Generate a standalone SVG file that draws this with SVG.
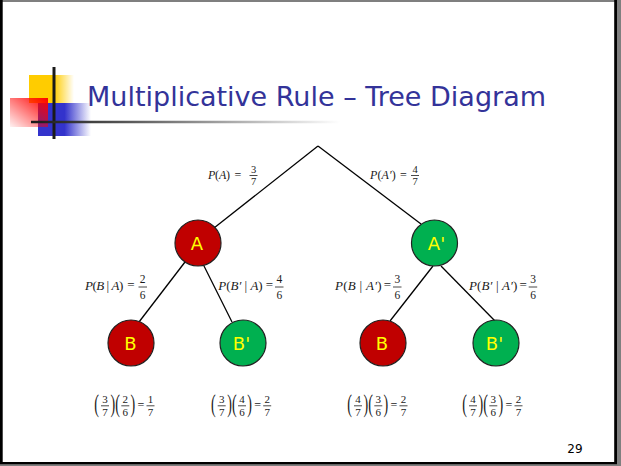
<svg xmlns="http://www.w3.org/2000/svg" width="621" height="466" viewBox="0 0 621 466">
<defs>
<style>
.m{font-family:"Liberation Serif","Times New Roman",serif;fill:#1a1a1a}
.i{font-style:italic}
.d{font-size:11px;text-anchor:middle}
.d1{font-size:10.5px;text-anchor:middle}
.d2{font-size:11.5px;text-anchor:middle}
.eq{text-anchor:middle}
.fb{stroke:#1a1a1a;stroke-width:0.8}
.nd{stroke:#222;stroke-width:1.2}
.red{fill:#C00000}
.grn{fill:#00B050}
.nl{font-family:"DejaVu Sans","Verdana",sans-serif;font-size:18px;fill:#FFFF00;text-anchor:middle}
.edge{stroke:#000;stroke-width:1.3;fill:none}
.pr{font-family:"Liberation Serif","Times New Roman",serif;font-size:14px;fill:#1a1a1a}
</style>
<linearGradient id="gy" x1="0" y1="0" x2="1" y2="0">
<stop offset="0" stop-color="#FFCC00"/><stop offset="0.55" stop-color="#FFCC00"/><stop offset="1" stop-color="#FFCC00" stop-opacity="0"/>
</linearGradient>
<linearGradient id="gb" x1="0" y1="0" x2="1" y2="0">
<stop offset="0" stop-color="#3333CC"/><stop offset="0.5" stop-color="#3333CC"/><stop offset="1" stop-color="#3333CC" stop-opacity="0"/>
</linearGradient>
<linearGradient id="gr" x1="1" y1="0" x2="0" y2="1">
<stop offset="0" stop-color="#FF0000"/><stop offset="1" stop-color="#FF0000" stop-opacity="0.05"/>
</linearGradient>
<linearGradient id="gl" x1="31" y1="0" x2="340" y2="0" gradientUnits="userSpaceOnUse">
<stop offset="0" stop-color="#1a1a1a"/><stop offset="0.3" stop-color="#555"/><stop offset="1" stop-color="#ffffff"/>
</linearGradient>
</defs>
<rect x="0" y="0" width="621" height="466" fill="#7f7f7f"/>
<rect x="0" y="2" width="616" height="461" fill="#ffffff"/>
<rect x="0" y="0" width="2.7" height="464" fill="#000"/>
<rect x="614.2" y="0" width="2.8" height="464" fill="#000"/>
<rect x="0" y="462" width="617" height="2.2" fill="#000"/>

<g id="decoration">
<rect x="29" y="75" width="45" height="28" fill="url(#gy)"/>
<rect x="38" y="103" width="53" height="33" fill="url(#gb)"/>
<rect x="10" y="98" width="38" height="29" fill="url(#gr)"/>
<line x1="54" y1="67" x2="54" y2="139" stroke="#1a1a1a" stroke-width="3"/>
<line x1="31" y1="122" x2="340" y2="122" stroke="url(#gl)" stroke-width="2.7"/>
</g>

<text x="87" y="106" font-family="DejaVu Sans, Verdana, sans-serif" font-size="27" fill="#333399">Multiplicative Rule – Tree Diagram</text>

<g id="connectors">
<line class="edge" x1="318" y1="146" x2="214" y2="228"/>
<line class="edge" x1="318" y1="146" x2="421" y2="224"/>
<line class="edge" x1="185" y1="262" x2="139" y2="322"/>
<line class="edge" x1="203" y1="264" x2="232" y2="322"/>
<line class="edge" x1="433" y1="266" x2="390" y2="321"/>
<line class="edge" x1="441" y1="266" x2="495" y2="321"/>
</g>

<g id="node-A"><circle class="nd red" cx="198" cy="243" r="23"/><text class="nl" x="197" y="250">A</text></g>
<g id="node-A2"><circle class="nd grn" cx="434.5" cy="243" r="23"/><text class="nl" x="436.5" y="250">A'</text></g>
<g id="node-B1"><circle class="nd red" cx="131" cy="343" r="23"/><text class="nl" x="130.5" y="350">B</text></g>
<g id="node-B1p"><circle class="nd grn" cx="243" cy="343" r="23"/><text class="nl" x="241.5" y="350">B'</text></g>
<g id="node-B2"><circle class="nd red" cx="383" cy="343" r="23"/><text class="nl" x="382" y="350">B</text></g>
<g id="node-B2p"><circle class="nd grn" cx="496" cy="343" r="23"/><text class="nl" x="494.5" y="350">B'</text></g>

<g id="label-PA">
<text class="m" x="208" y="179.3" font-size="12" textLength="22"><tspan class="i">P</tspan>(<tspan class="i">A</tspan>)</text>
<text class="m eq" x="238" y="178.8" font-size="12">=</text>
<text class="m d1" x="253.5" y="173.3">3</text><line class="fb" x1="249.5" y1="175.5" x2="257.5" y2="175.5"/><text class="m d1" x="253.5" y="185.3">7</text>
</g>
<g id="label-PA2">
<text class="m" x="370" y="179.3" font-size="12" textLength="25.7"><tspan class="i">P</tspan>(<tspan class="i">A′</tspan>)</text>
<text class="m eq" x="403.5" y="178.8" font-size="12">=</text>
<text class="m d1" x="415" y="173.3">4</text><line class="fb" x1="411" y1="175.5" x2="419" y2="175.5"/><text class="m d1" x="415" y="185.3">7</text>
</g>
<g id="label-PBA">
<text class="m" x="85" y="290" font-size="13" textLength="38.3"><tspan class="i">P</tspan>(<tspan class="i">B</tspan> | <tspan class="i">A</tspan>)</text>
<text class="m eq" x="131" y="289.3" font-size="13">=</text>
<text class="m d2" x="142.7" y="283">2</text><line class="fb" x1="138.5" y1="287" x2="147" y2="287"/><text class="m d2" x="142.7" y="298.8">6</text>
</g>
<g id="label-PBpA">
<text class="m" x="218.3" y="290" font-size="13" textLength="44.4"><tspan class="i">P</tspan>(<tspan class="i">B′</tspan> | <tspan class="i">A</tspan>)</text>
<text class="m eq" x="269.5" y="289.3" font-size="13">=</text>
<text class="m d2" x="279.3" y="283">4</text><line class="fb" x1="275" y1="287" x2="283.5" y2="287"/><text class="m d2" x="279.3" y="298.8">6</text>
</g>
<g id="label-PBAp">
<text class="m" x="335" y="290" font-size="13" textLength="46.7"><tspan class="i">P</tspan>(<tspan class="i">B</tspan> | <tspan class="i">A′</tspan>)</text>
<text class="m eq" x="387.5" y="289.3" font-size="13">=</text>
<text class="m d2" x="397.3" y="283">3</text><line class="fb" x1="393" y1="287" x2="401.5" y2="287"/><text class="m d2" x="397.3" y="298.8">6</text>
</g>
<g id="label-PBpAp">
<text class="m" x="469" y="290" font-size="13" textLength="48.3"><tspan class="i">P</tspan>(<tspan class="i">B′</tspan> | <tspan class="i">A′</tspan>)</text>
<text class="m eq" x="523.2" y="289.3" font-size="13">=</text>
<text class="m d2" x="533" y="283">3</text><line class="fb" x1="528.7" y1="287" x2="537.2" y2="287"/><text class="m d2" x="533" y="298.8">6</text>
</g>

<g id="product-1" transform="translate(95,0)">
<text class="pr" transform="translate(-0.7,412.2) scale(1,1.8)">(</text>
<text class="m d" x="10" y="403.3">3</text><line class="fb" x1="6" y1="405.8" x2="14" y2="405.8"/><text class="m d" x="10" y="416">7</text>
<text class="pr" transform="translate(15.6,412.2) scale(1,1.8)">)</text>
<text class="pr" transform="translate(20.3,412.2) scale(1,1.8)">(</text>
<text class="m d" x="30.3" y="403.3">2</text><line class="fb" x1="26.3" y1="405.8" x2="34.3" y2="405.8"/><text class="m d" x="30.3" y="416">6</text>
<text class="pr" transform="translate(35.6,412.2) scale(1,1.8)">)</text>
<text class="m eq" x="46" y="408.5" font-size="12">=</text>
<text class="m d" x="55.5" y="403.3">1</text><line class="fb" x1="51.5" y1="405.8" x2="59.5" y2="405.8"/><text class="m d" x="55.5" y="416">7</text>
</g>
<g id="product-2" transform="translate(211.7,0)">
<text class="pr" transform="translate(-0.7,412.2) scale(1,1.8)">(</text>
<text class="m d" x="10" y="403.3">3</text><line class="fb" x1="6" y1="405.8" x2="14" y2="405.8"/><text class="m d" x="10" y="416">7</text>
<text class="pr" transform="translate(15.6,412.2) scale(1,1.8)">)</text>
<text class="pr" transform="translate(20.3,412.2) scale(1,1.8)">(</text>
<text class="m d" x="30.3" y="403.3">4</text><line class="fb" x1="26.3" y1="405.8" x2="34.3" y2="405.8"/><text class="m d" x="30.3" y="416">6</text>
<text class="pr" transform="translate(35.6,412.2) scale(1,1.8)">)</text>
<text class="m eq" x="46" y="408.5" font-size="12">=</text>
<text class="m d" x="55.5" y="403.3">2</text><line class="fb" x1="51.5" y1="405.8" x2="59.5" y2="405.8"/><text class="m d" x="55.5" y="416">7</text>
</g>
<g id="product-3" transform="translate(348,0)">
<text class="pr" transform="translate(-0.7,412.2) scale(1,1.8)">(</text>
<text class="m d" x="10" y="403.3">4</text><line class="fb" x1="6" y1="405.8" x2="14" y2="405.8"/><text class="m d" x="10" y="416">7</text>
<text class="pr" transform="translate(15.6,412.2) scale(1,1.8)">)</text>
<text class="pr" transform="translate(20.3,412.2) scale(1,1.8)">(</text>
<text class="m d" x="30.3" y="403.3">3</text><line class="fb" x1="26.3" y1="405.8" x2="34.3" y2="405.8"/><text class="m d" x="30.3" y="416">6</text>
<text class="pr" transform="translate(35.6,412.2) scale(1,1.8)">)</text>
<text class="m eq" x="46" y="408.5" font-size="12">=</text>
<text class="m d" x="55.5" y="403.3">2</text><line class="fb" x1="51.5" y1="405.8" x2="59.5" y2="405.8"/><text class="m d" x="55.5" y="416">7</text>
</g>
<g id="product-4" transform="translate(463,0)">
<text class="pr" transform="translate(-0.7,412.2) scale(1,1.8)">(</text>
<text class="m d" x="10" y="403.3">4</text><line class="fb" x1="6" y1="405.8" x2="14" y2="405.8"/><text class="m d" x="10" y="416">7</text>
<text class="pr" transform="translate(15.6,412.2) scale(1,1.8)">)</text>
<text class="pr" transform="translate(20.3,412.2) scale(1,1.8)">(</text>
<text class="m d" x="30.3" y="403.3">3</text><line class="fb" x1="26.3" y1="405.8" x2="34.3" y2="405.8"/><text class="m d" x="30.3" y="416">6</text>
<text class="pr" transform="translate(35.6,412.2) scale(1,1.8)">)</text>
<text class="m eq" x="46" y="408.5" font-size="12">=</text>
<text class="m d" x="55.5" y="403.3">2</text><line class="fb" x1="51.5" y1="405.8" x2="59.5" y2="405.8"/><text class="m d" x="55.5" y="416">7</text>
</g>

<text x="575" y="453" font-family="DejaVu Sans, Verdana, sans-serif" font-size="12" fill="#000" text-anchor="middle">29</text>
</svg>
